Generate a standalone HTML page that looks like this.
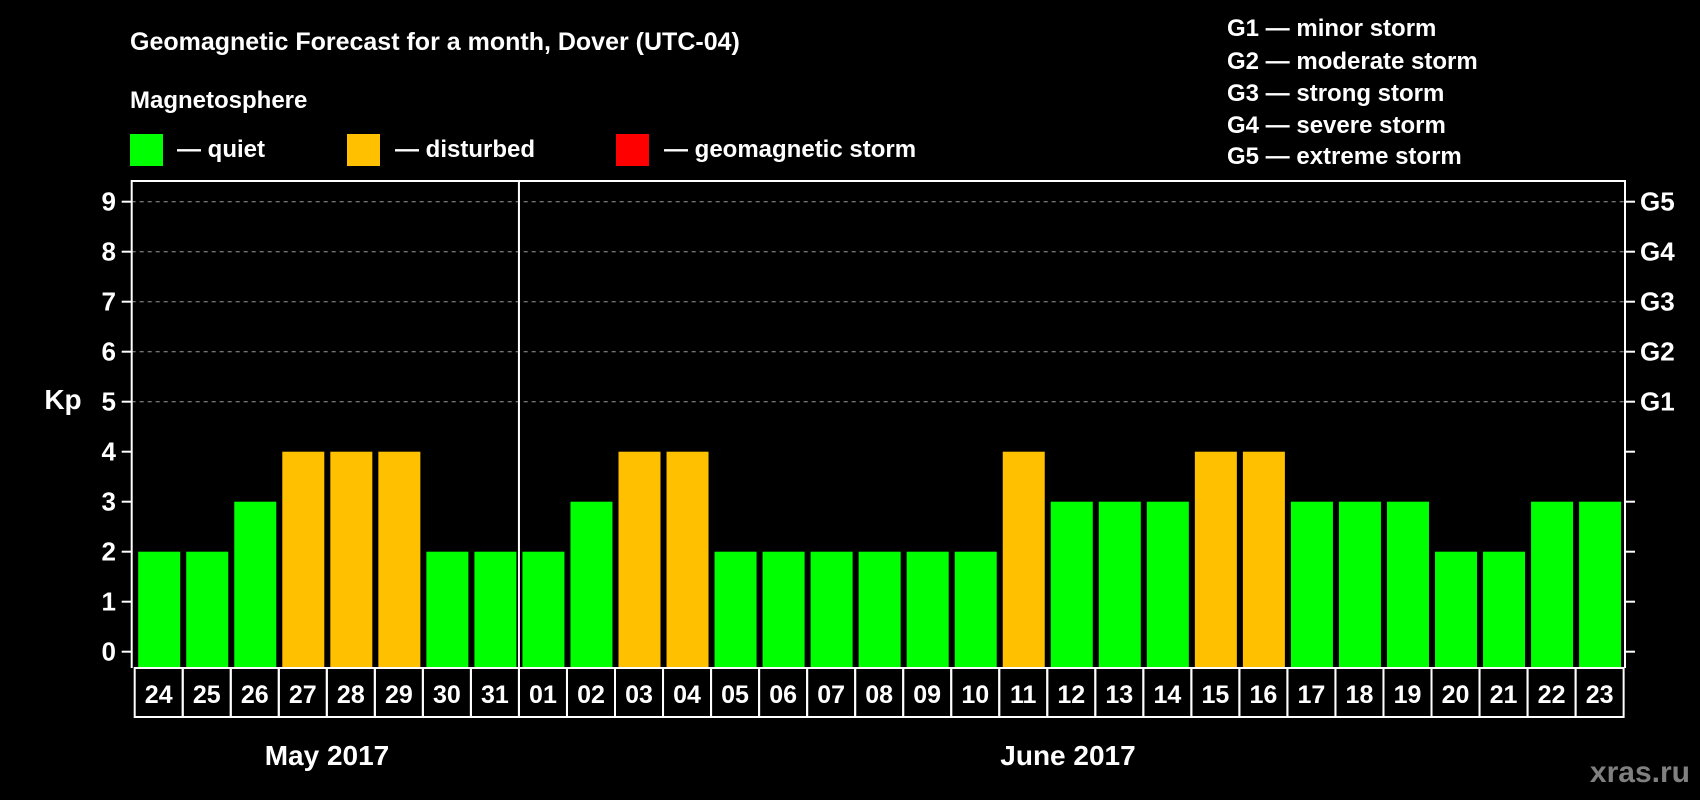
<!DOCTYPE html>
<html><head><meta charset="utf-8"><style>
html,body{margin:0;padding:0;background:#000;}
svg{display:block;font-family:"Liberation Sans",Arial,sans-serif;font-weight:bold;}
</style></head><body>
<svg id="chart" width="1700" height="800" viewBox="0 0 1700 800" xmlns="http://www.w3.org/2000/svg">
<rect width="1700" height="800" fill="#000"/>
<text x="130" y="50" fill="#fff" font-size="25">Geomagnetic Forecast for a month, Dover (UTC-04)</text>
<text x="130" y="108" fill="#fff" font-size="24">Magnetosphere</text>
<g><rect x="130" y="134" width="33" height="32" fill="#00ff00"/><text x="177" y="157" fill="#fff" font-size="24">— quiet</text></g>
<g><rect x="347" y="134" width="33" height="32" fill="#ffc000"/><text x="395" y="157" fill="#fff" font-size="24">— disturbed</text></g>
<g><rect x="616" y="134" width="33" height="32" fill="#ff0000"/><text x="664" y="157" fill="#fff" font-size="24">— geomagnetic storm</text></g>
<g fill="#fff" font-size="24">
<text x="1227" y="36">G1 — minor storm</text>
<text x="1227" y="69">G2 — moderate storm</text>
<text x="1227" y="101">G3 — strong storm</text>
<text x="1227" y="133">G4 — severe storm</text>
<text x="1227" y="164">G5 — extreme storm</text>
</g>
<text x="63" y="409" fill="#fff" font-size="28" text-anchor="middle">Kp</text>
<g id="grid"></g><g id="bars"></g><g id="axes"></g><g id="days"></g>
<text x="327" y="765" fill="#fff" font-size="28" text-anchor="middle">May 2017</text>
<text x="1068" y="765" fill="#fff" font-size="28" text-anchor="middle">June 2017</text>
<text x="1690" y="782" fill="#808080" font-size="30" text-anchor="end">xras.ru</text>
</svg>
<script>
const days = ["24","25","26","27","28","29","30","31","01","02","03","04","05","06","07","08","09","10","11","12","13","14","15","16","17","18","19","20","21","22","23"];
const kpValues = [2,2,3,4,4,4,2,2,2,3,4,4,2,2,2,2,2,2,4,3,3,3,4,4,3,3,3,2,2,3,3];
const yTicks = [0,1,2,3,4,5,6,7,8,9];
const gLabels = ["","","","","","G1","G2","G3","G4","G5"];
const NS="http://www.w3.org/2000/svg";
const x0=134.7, cw=48.03, yBase=668, plotTop=181, plotL=131.7, plotR=1625;
function yS(v){return 651.7-50*v;}
function xS(i){return x0+i*cw;}
function mk(t,a,p){const e=document.createElementNS(NS,t);for(const k in a)e.setAttribute(k,a[k]);p.appendChild(e);return e;}
const grid=document.getElementById('grid'),bars=document.getElementById('bars'),axes=document.getElementById('axes'),dg=document.getElementById('days');
yTicks.forEach((v,i)=>{
  if(v>=5){const l=mk('line',{x1:plotL,x2:plotR,y1:yS(v),y2:yS(v),stroke:'#999','stroke-width':1,'stroke-dasharray':'4,4'},grid);
  
  }
  const t1=mk('line',{x1:plotL-10,x2:plotL,y1:yS(v),y2:yS(v),stroke:'#fff','stroke-width':2},axes);
  
  
  const t2=mk('line',{x1:plotR,x2:plotR+10,y1:yS(v),y2:yS(v),stroke:'#fff','stroke-width':2},axes);
  
  
  const lb=mk('text',{x:116,y:yS(v)+9,fill:'#fff','font-size':26,'text-anchor':'end'},axes);lb.textContent=v;
  
  
  if(gLabels[i]){const g=mk('text',{x:1640,y:yS(v)+9,fill:'#fff','font-size':26},axes);g.textContent=gLabels[i];
  
  }
});
kpValues.forEach((v,i)=>{
  const c=v>=5?'#ff0000':(v>=4?'#ffc000':'#00ff00');
  const b=mk('rect',{x:xS(i)+3.5,y:yS(v),width:42,height:yBase-yS(v),fill:c},bars);
  
  
  const cell=mk('rect',{x:xS(i),y:yBase,width:cw,height:49,fill:'none',stroke:'#fff','stroke-width':2},dg);
  
  
  const t=mk('text',{x:xS(i)+cw/2,y:yBase+35,fill:'#fff','font-size':25,'text-anchor':'middle'},dg);t.textContent=days[i];
  
  
});
const fr=mk('path',{d:`M${plotL} ${yBase}V${plotTop}H${plotR}V${yBase}`,fill:'none',stroke:'#fff','stroke-width':2},axes);


const sep=mk('line',{x1:xS(8),x2:xS(8),y1:plotTop,y2:yBase,stroke:'#fff','stroke-width':2},axes);


</script>
</body></html>
